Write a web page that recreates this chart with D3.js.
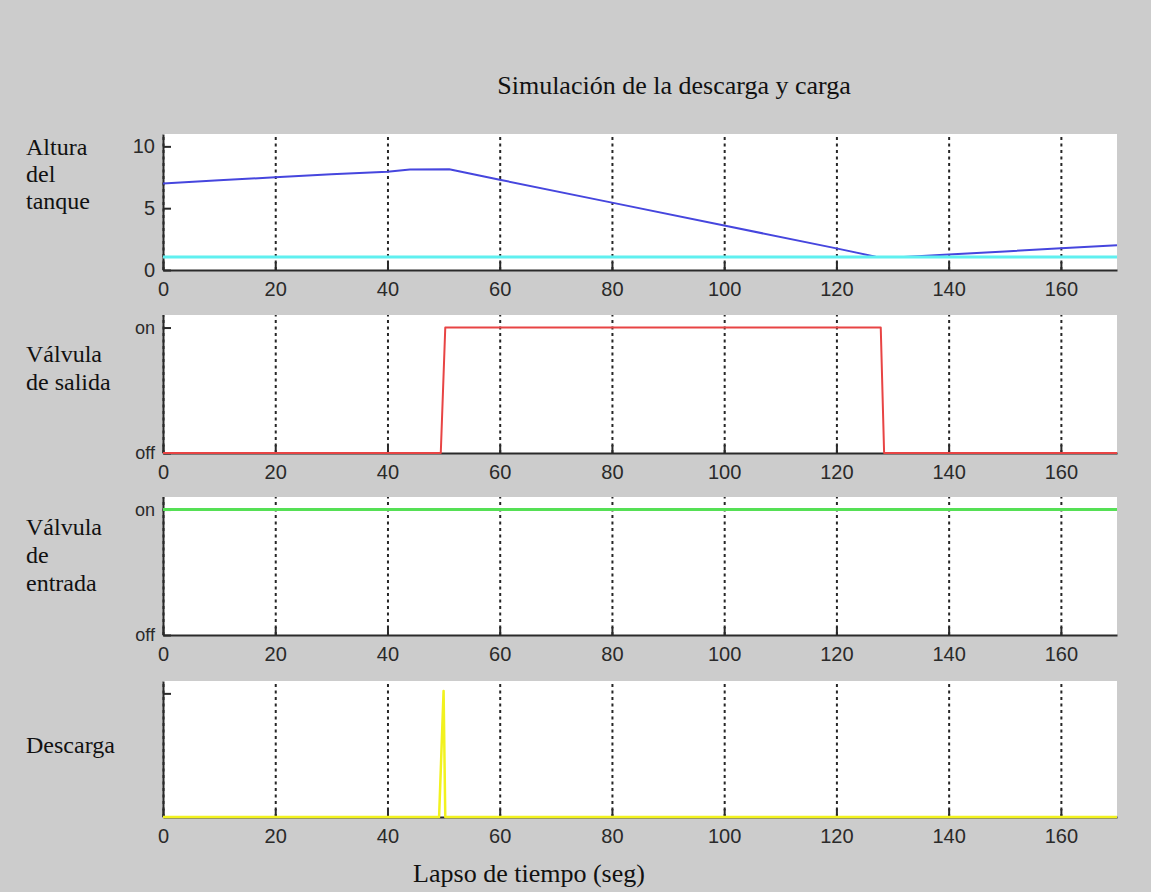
<!DOCTYPE html>
<html>
<head>
<meta charset="utf-8">
<script src="https://cdn.jsdelivr.net/npm/d3@7"></script>
<style>
  html, body { margin: 0; padding: 0; background: #cccccc; }
  svg { display: block; }
  .serif { font-family: "Liberation Serif", "Times New Roman", serif; fill: #111; }
  .tick text { font-family: "Liberation Sans", Arial, sans-serif; fill: #2a2a2a; }
</style>
</head>
<body>
<svg id="chart" width="1151" height="892"></svg>
<script>
// ---------- data ----------
const chartTitle = "Simulación de la descarga y carga";
const xAxisTitle = "Lapso de tiempo (seg)";
const timeTicks = [0, 20, 40, 60, 80, 100, 120, 140, 160];

// Panel 1: tank height (blue) and reference level (cyan)
const heightTime  = [0, 10, 20, 30, 40, 44, 51, 60, 80, 100, 120, 127, 132, 140, 150, 160, 170];
const heightValue = [7.0, 7.25, 7.5, 7.75, 7.95, 8.12, 8.15, 7.3, 5.45, 3.6, 1.75, 1.08, 1.05, 1.25, 1.5, 1.75, 2.0];
const levelTime  = [0, 170];
const levelValue = [1.05, 1.05];
const heightTicks = [0, 5, 10];

// Panel 2: outlet valve (red)
const outValveTime  = [0, 49.5, 50.3, 127.9, 128.5, 170];
const outValveState = [0, 0, 1, 1, 0, 0];

// Panel 3: inlet valve (green)
const inValveTime  = [0, 170];
const inValveState = [1, 1];

// Panel 4: discharge (yellow)
const dischargeTime  = [0, 49.2, 50.0, 50.3, 170];
const dischargeValue = [0, 0, 1.02, 0, 0];

const valveTicks = [0, 1];
const valveTickLabels = ["off", "on"];

const panelLabels = [
  ["Altura", "del", "tanque"],
  ["Válvula", "de salida"],
  ["Válvula", "de", "entrada"],
  ["Descarga"]
];

// ---------- layout ----------
const svg = d3.select("#chart");
const left = 163, right = 1117;
const x = d3.scaleLinear().domain([0, 170]).range([left, right]);

const panels = [
  { top: 134, bottom: 270, ymax: 11,  yTicks: heightTicks, yFmt: d => d, ySize: 20,
    series: [
      { t: heightTime, v: heightValue, color: "#4646de", w: 2 },
      { t: levelTime,  v: levelValue,  color: "#5ff0f0", w: 3 }
    ],
    labelY: [155, 182, 209] },
  { top: 315, bottom: 453, ymax: 1.1, yTicks: valveTicks, yFmt: (d, i) => valveTickLabels[i], ySize: 18,
    series: [{ t: outValveTime, v: outValveState, color: "#e84444", w: 2 }],
    labelY: [362, 390] },
  { top: 497, bottom: 635, ymax: 1.1, yTicks: valveTicks, yFmt: (d, i) => valveTickLabels[i], ySize: 18,
    series: [{ t: inValveTime, v: inValveState, color: "#55e055", w: 3 }],
    labelY: [535, 563, 591] },
  { top: 681, bottom: 817, ymax: 1.1, yTicks: [1], yFmt: () => "", ySize: 18,
    series: [{ t: dischargeTime, v: dischargeValue, color: "#f2f21e", w: 2.5 }],
    labelY: [753] }
];

panels.forEach((p, pi) => {
  const y = d3.scaleLinear().domain([0, p.ymax]).range([p.bottom, p.top]);
  const g = svg.append("g");

  g.append("rect")
    .attr("x", left).attr("y", p.top)
    .attr("width", right - left).attr("height", p.bottom - p.top)
    .attr("fill", "#ffffff");

  // dotted vertical grid
  const grid = g.append("g")
    .attr("transform", `translate(0,${p.bottom})`)
    .call(d3.axisBottom(x).tickValues(timeTicks).tickSize(-(p.bottom - p.top)).tickFormat(""));
  grid.select(".domain").remove();
  grid.selectAll(".tick line")
    .attr("stroke", "#262626").attr("stroke-width", 2).attr("stroke-dasharray", "3,3.5");

  // x axis
  const xa = g.append("g")
    .attr("transform", `translate(0,${p.bottom})`)
    .call(d3.axisBottom(x).tickValues(timeTicks).tickSize(-8).tickSizeOuter(0).tickPadding(12));
  xa.select(".domain").attr("stroke", "#2a2a2a").attr("stroke-width", 2);
  xa.selectAll(".tick line").attr("stroke", "#2a2a2a").attr("stroke-width", 2);
  xa.selectAll(".tick text").attr("font-size", 20);

  // y axis
  const ya = g.append("g")
    .attr("transform", `translate(${left},0)`)
    .call(d3.axisLeft(y).tickValues(p.yTicks).tickFormat(p.yFmt).tickSize(-8).tickSizeOuter(0).tickPadding(8));
  ya.select(".domain").attr("stroke", "#2a2a2a").attr("stroke-width", 2);
  ya.selectAll(".tick line").attr("stroke", "#2a2a2a").attr("stroke-width", 2);
  ya.selectAll(".tick text").attr("font-size", p.ySize);

  // data lines
  p.series.forEach(s => {
    const pts = s.t.map((t, i) => [t, s.v[i]]);
    g.append("path")
      .attr("d", d3.line().x(d => x(d[0])).y(d => y(d[1]))(pts))
      .attr("fill", "none")
      .attr("stroke", s.color)
      .attr("stroke-width", s.w)
      .attr("stroke-linejoin", "round");
  });

  // panel label
  panelLabels[pi].forEach((txt, li) => {
    svg.append("text").attr("class", "serif")
      .attr("x", 26).attr("y", p.labelY[li])
      .attr("font-size", 24)
      .text(txt);
  });
});

svg.append("text").attr("class", "serif")
  .attr("x", 674).attr("y", 94).attr("text-anchor", "middle")
  .attr("font-size", 26).text(chartTitle);

svg.append("text").attr("class", "serif")
  .attr("x", 529).attr("y", 882).attr("text-anchor", "middle")
  .attr("font-size", 26).text(xAxisTitle);
</script>
</body>
</html>
